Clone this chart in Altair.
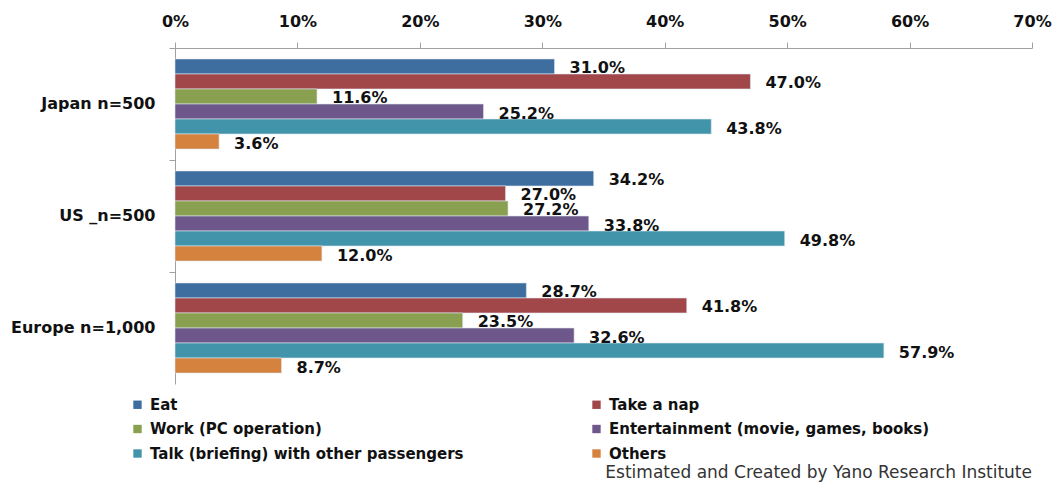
import altair as alt
import pandas as pd

groups = ["Japan n=500", "US _n=500", "Europe n=1,000"]
activities = [
    "Eat",
    "Take a nap",
    "Work (PC operation)",
    "Entertainment (movie, games, books)",
    "Talk (briefing) with other passengers",
    "Others",
]
colors = ["#3D6E9F", "#A1474A", "#88A04F", "#6E578B", "#4294AA", "#D6823F"]
japan = [31.0, 47.0, 11.6, 25.2, 43.8, 3.6]
us = [34.2, 27.0, 27.2, 33.8, 49.8, 12.0]
europe = [28.7, 41.8, 23.5, 32.6, 57.9, 8.7]
x_ticks = [0, 10, 20, 30, 40, 50, 60, 70]
source = "Estimated and Created by Yano Research Institute"

rows = []
for g, vals in zip(groups, [japan, us, europe]):
    for a, v in zip(activities, vals):
        rows.append({"group": g, "activity": a, "value": v})
df = pd.DataFrame(rows)

# legend fills column by column: reorder so it reads row by row
legend_order = [0, 2, 4, 1, 3, 5]
legend_domain = [activities[i] for i in legend_order]
legend_range = [colors[i] for i in legend_order]

FONT = "DejaVu Sans"

y_enc = alt.Y(
    "group:N",
    sort=groups,
    title=None,
    scale=alt.Scale(paddingInner=0, paddingOuter=0),
    axis=alt.Axis(
        orient="left",
        bandPosition=0,
        tickSize=6,
        tickColor="#A0A0A0",
        domainColor="#A0A0A0",
        labelPadding=14,
        labelFont=FONT,
        labelFontSize=16,
        labelFontWeight="bold",
        labelColor="#111111",
    ),
)
yoff_enc = alt.YOffset(
    "activity:N",
    sort=activities,
    scale=alt.Scale(paddingInner=0, paddingOuter=0.73),
)
x_enc = alt.X(
    "value:Q",
    title=None,
    scale=alt.Scale(domain=[0, 70], nice=False),
    axis=alt.Axis(
        orient="top",
        values=x_ticks,
        labelExpr="datum.value + '%'",
        labelFlush=False,
        grid=False,
        tickSize=6,
        tickColor="#A0A0A0",
        domainColor="#A0A0A0",
        labelPadding=13,
        labelFont=FONT,
        labelFontSize=16,
        labelFontWeight="bold",
        labelColor="#111111",
    ),
)

bars = alt.Chart(df).mark_bar(stroke="#DDE6EE", strokeWidth=0.6).encode(
    x=x_enc,
    y=y_enc,
    yOffset=yoff_enc,
    color=alt.Color(
        "activity:N",
        scale=alt.Scale(domain=legend_domain, range=legend_range),
        legend=alt.Legend(
            title=None,
            orient="none",
            legendX=-45,
            legendY=349,
            columns=2,
            columnPadding=125,
            rowPadding=8.5,
            symbolType="square",
            symbolSize=70,
            symbolStrokeWidth=0,
            labelFont=FONT,
            labelFontSize=15,
            labelFontWeight="bold",
            labelColor="#111111",
            labelOffset=5,
            labelLimit=500,
        ),
    ),
)

labels = alt.Chart(df).transform_calculate(
    label="format(datum.value, '.1f') + '%'"
).mark_text(
    align="left", baseline="middle", dx=15, dy=2,
    font=FONT, fontSize=16, fontWeight="bold", color="#111111",
).encode(
    x="value:Q",
    y=alt.Y("group:N", sort=groups),
    yOffset=alt.YOffset("activity:N", sort=activities),
    text="label:N",
)

chart = alt.layer(bars, labels).properties(
    width=857,
    height=336,
    padding={"left": 167, "top": 40, "right": 22, "bottom": 99},
    autosize=alt.AutoSizeParams(type="none"),
    title=alt.TitleParams(
        source, orient="bottom", anchor="end", frame="group", offset=3,
        font=FONT, fontSize=17, fontWeight="normal", color="#333333",
    ),
).configure_view(stroke=None)

chart.save("out.html", embed_options={"renderer": "svg", "actions": False})
